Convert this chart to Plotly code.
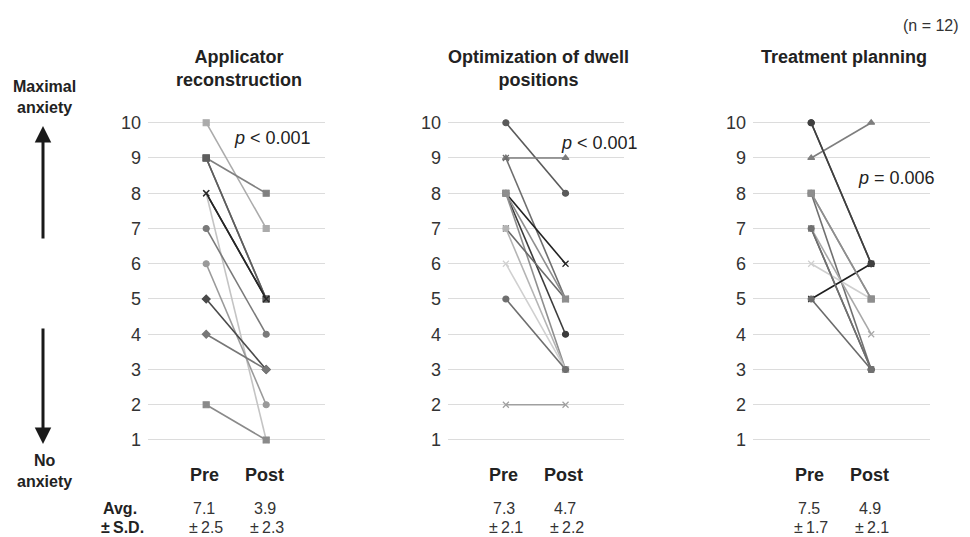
import plotly.graph_objects as go

W, H = 970, 537

# ---------------- data ----------------
categories = ["Pre", "Post"]
y_ticks = [1, 2, 3, 4, 5, 6, 7, 8, 9, 10]

panel_titles = ["Applicator<br>reconstruction", "Optimization of dwell<br>positions", "Treatment planning"]
p_values = ["<i>p</i> < 0.001", "<i>p</i> < 0.001", "<i>p</i> = 0.006"]
avg_pre = ["7.1", "7.3", "7.5"]
avg_post = ["3.9", "4.7", "4.9"]
sd_pre = ["2.5", "2.1", "1.7"]
sd_post = ["2.3", "2.2", "2.1"]

applicator_pre = [10, 9, 9, 8, 8, 7, 6, 5, 4, 2, 9, 8]
applicator_post = [7, 8, 5, 5, 1, 4, 2, 3, 3, 1, 5, 5]

dwell_pre = [10, 9, 9, 8, 8, 8, 7, 7, 6, 5, 2, 8]
dwell_post = [8, 9, 5, 6, 4, 3, 5, 3, 3, 3, 2, 5]

planning_pre = [10, 9, 8, 8, 7, 7, 6, 5, 5, 10, 8, 7]
planning_post = [6, 10, 5, 3, 3, 4, 5, 6, 3, 6, 5, 3]

# ---------------- styles ----------------
styles = [
    # applicator
    [("#ababab", "square"), ("#808080", "square"), ("#5e5e5e", "square"), ("#262626", "x-thin-open"),
     ("#c4c4c4", "x-thin-open"), ("#7a7a7a", "circle"), ("#9a9a9a", "circle"), ("#4a4a4a", "diamond"),
     ("#777777", "diamond"), ("#8a8a8a", "square-x"), ("#5e5e5e", "square"), ("#262626", "x-thin-open")],
    # dwell
    [("#5a5a5a", "circle"), ("#7c7c7c", "triangle-up"), ("#6e6e6e", "x-thin-open"), ("#222222", "x-thin-open"),
     ("#3c3c3c", "circle"), ("#8e8e8e", "square"), ("#6a6a6a", "x-thin-open"), ("#b4b4b4", "circle"),
     ("#d0d0d0", "x-thin-open"), ("#6e6e6e", "circle"), ("#a0a0a0", "x-thin-open"), ("#8e8e8e", "square")],
    # planning
    [("#404040", "circle"), ("#7e7e7e", "triangle-up"), ("#8e8e8e", "square"), ("#707070", "circle"),
     ("#585858", "x-thin-open"), ("#a8a8a8", "x-thin-open"), ("#cfcfcf", "x-thin-open"), ("#1e1e1e", "x-thin-open"),
     ("#6a6a6a", "circle"), ("#404040", "circle"), ("#8e8e8e", "square"), ("#707070", "circle")],
]

panels = [(applicator_pre, applicator_post), (dwell_pre, dwell_post), (planning_pre, planning_post)]

# panel pixel geometry (plot area)
x_px = [(148, 325), (448, 624), (753, 930)]
y_bottom_px, y_top_px = 457.6, 105.1

PM = "±\u2009"
AVG_Y, SD_Y = 508.5, 527.5


def px(x):
    return x / W


def py(y):
    return 1 - y / H


def stat(x, y, text, bold=False):
    return dict(xref="paper", yref="paper", x=px(x), y=py(y), text=text, showarrow=False,
                xanchor="center", yanchor="middle", borderpad=0,
                font=dict(size=16, color="#222222" if bold else "#333333"))


fig = go.Figure()
layout = dict(
    width=W, height=H, margin=dict(l=0, r=0, t=0, b=0),
    paper_bgcolor="white", plot_bgcolor="white", showlegend=False,
    font=dict(family="Liberation Sans, Arial, sans-serif", color="#333333"),
)

annotations = []
for i, (pre, post) in enumerate(panels):
    xa = "x" if i == 0 else f"x{i+1}"
    ya = "y" if i == 0 else f"y{i+1}"
    for j in range(len(pre)):
        col, sym = styles[i][j]
        fig.add_trace(go.Scatter(
            x=categories, y=[pre[j], post[j]], xaxis=xa, yaxis=ya, mode="lines+markers",
            line=dict(color=col, width=1.6),
            marker=dict(symbol=sym, size=6, color=col, line=dict(color=col, width=1.2)),
            hoverinfo="skip",
        ))
    key = "" if i == 0 else str(i + 1)
    x0, x1 = x_px[i]
    layout["xaxis" + key] = dict(
        domain=[px(x0), px(x1)], range=[-0.97, 1.98], type="category",
        showgrid=False, zeroline=False, showline=False, showticklabels=False, ticks="",
        anchor=ya, fixedrange=True,
    )
    layout["yaxis" + key] = dict(
        domain=[py(y_bottom_px), py(y_top_px)], range=[0.5, 10.5],
        tickvals=y_ticks, ticktext=[str(t) for t in y_ticks],
        showgrid=True, gridcolor="#dcdcdc", gridwidth=1, zeroline=False, showline=False,
        ticks="", ticklabelstandoff=6, tickfont=dict(size=18, color="#333333"),
        anchor=xa, fixedrange=True,
    )
    # pre/post centres in pixels
    unit = (x1 - x0) / 2.95
    pre_x = x0 + 0.97 * unit
    post_x = pre_x + unit
    mid = (pre_x + post_x) / 2
    # titles (top line centred at y=57)
    annotations.append(dict(xref="paper", yref="paper", x=px(mid + 3), y=py(45),
                            text="<b>" + panel_titles[i] + "</b>",
                            showarrow=False, xanchor="center", yanchor="top",
                            font=dict(size=18, color="#222222")))
    # Pre / Post labels
    for cx, lab in [(pre_x, categories[0]), (post_x, categories[1])]:
        annotations.append(dict(xref="paper", yref="paper", x=px(cx - 2), y=py(475), text="<b>" + lab + "</b>",
                                showarrow=False, xanchor="center", yanchor="middle",
                                font=dict(size=18, color="#222222")))
    # stats
    annotations.append(stat(pre_x - 2, AVG_Y, avg_pre[i]))
    annotations.append(stat(post_x - 1, AVG_Y, avg_post[i]))
    annotations.append(stat(pre_x, SD_Y, PM + sd_pre[i]))
    annotations.append(stat(post_x + 1, SD_Y, PM + sd_post[i]))

# p-values
p_pos = [(272, 138), (599, 143), (896, 178)]
for (cx, cy), t in zip(p_pos, p_values):
    annotations.append(dict(xref="paper", yref="paper", x=px(cx), y=py(cy), text=t, showarrow=False,
                            xanchor="center", yanchor="middle", font=dict(size=18, color="#222222")))

# n label
annotations.append(dict(xref="paper", yref="paper", x=px(961), y=py(26), text="(n = 12)", showarrow=False,
                        xanchor="right", yanchor="middle", font=dict(size=16, color="#333333")))

# left side labels
annotations.append(dict(xref="paper", yref="paper", x=px(44), y=py(97), text="<b>Maximal<br>anxiety</b>",
                        showarrow=False, xanchor="center", yanchor="middle", font=dict(size=16, color="#222222")))
annotations.append(dict(xref="paper", yref="paper", x=px(44), y=py(471), text="<b>No<br>anxiety</b>",
                        showarrow=False, xanchor="center", yanchor="middle", font=dict(size=16, color="#222222")))
# arrows
annotations.append(dict(xref="paper", yref="paper", x=px(43), y=py(126), ax=0, ay=114, text="",
                        showarrow=True, arrowhead=2, arrowsize=1.1, arrowwidth=3, arrowcolor="#1a1a1a"))
annotations.append(dict(xref="paper", yref="paper", x=px(43), y=py(444), ax=0, ay=-117, text="",
                        showarrow=True, arrowhead=2, arrowsize=1.1, arrowwidth=3, arrowcolor="#1a1a1a"))
annotations.append(stat(120, AVG_Y, "<b>Avg.</b>", bold=True))
annotations.append(stat(122, SD_Y, "<b>" + PM + "S.D.</b>", bold=True))

layout["annotations"] = annotations
fig.update_layout(**layout)
fig.write_html(
    "out.html",
    config={"displayModeBar": False},
    post_script="document.body.style.margin='0';document.body.style.overflow='hidden';",
)
